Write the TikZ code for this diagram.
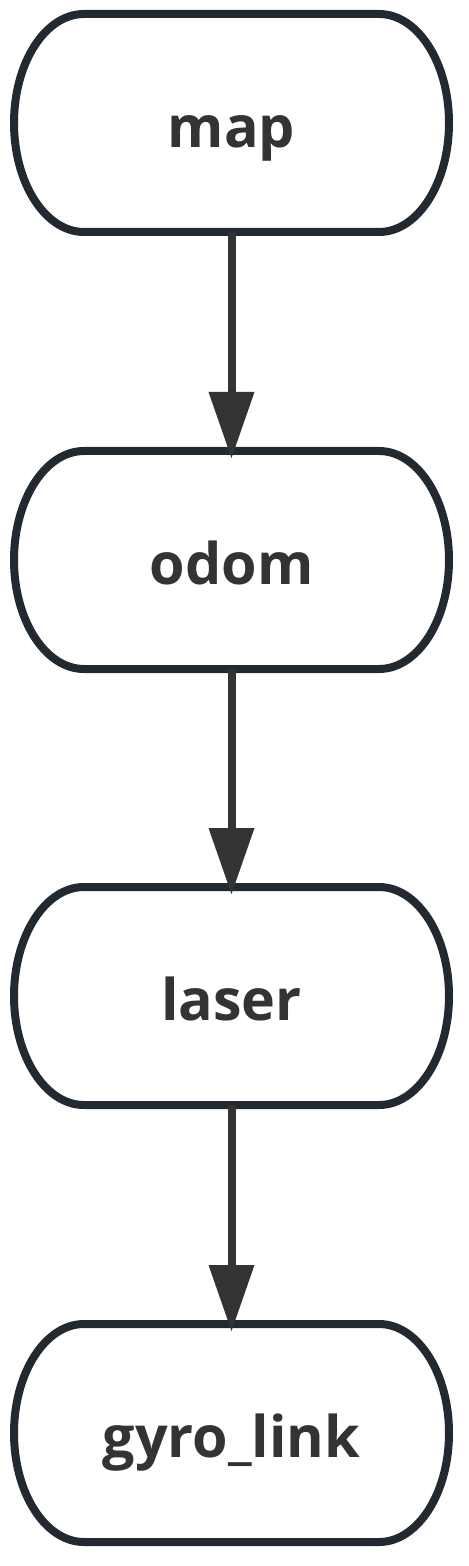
\documentclass[tikz,border=0pt]{standalone}
\usepackage{fontspec}
\setmainfont{Open Sans}
\usetikzlibrary{arrows.meta}
\definecolor{bordergray}{RGB}{35,41,48}
\definecolor{arrowgray}{RGB}{51,51,51}
\definecolor{textgray}{RGB}{51,51,51}
\begin{document}
\begin{tikzpicture}
[x=0.5pt,y=-0.5pt,
 nodedecorate/.style={shape=rectangle,minimum width=217.5pt,minimum height=109pt,
   inner sep=0pt,outer sep=0pt,text height=24.5pt,text depth=0pt,
   text=textgray,font=\fontsize{28.7}{32}\selectfont\bfseries},
 borderdecorate/.style={line width=4pt,draw=bordergray},
 linedecorate/.style={-{Triangle[length=33pt,width=23pt,line width=0pt]},
   line width=4pt,draw=arrowgray,fill=arrowgray,shorten >=-3.5pt}]
\useasboundingbox (0,0) rectangle (469,1566);
%% nodes or vertices
\foreach \nodename/\y/\txt in {map/123/map, odom/560/odom, laser/996/laser, gyro/1433/gyro\_link} {
  \node (\nodename) at (231.5,\y) [nodedecorate] {\txt};
  \draw[borderdecorate] ([xshift=35pt]\nodename.north west) -- ([xshift=-35pt]\nodename.north east)
    arc[start angle=90,end angle=-90,x radius=35pt,y radius=54.5pt]
    -- ([xshift=35pt]\nodename.south west)
    arc[start angle=270,end angle=90,x radius=35pt,y radius=54.5pt] -- cycle;
}
%% edges or lines
\foreach \startnode/\endnode in {map/odom, odom/laser, laser/gyro} {
  \draw[linedecorate] (\startnode) -- (\endnode);
}
\end{tikzpicture}
\end{document}
